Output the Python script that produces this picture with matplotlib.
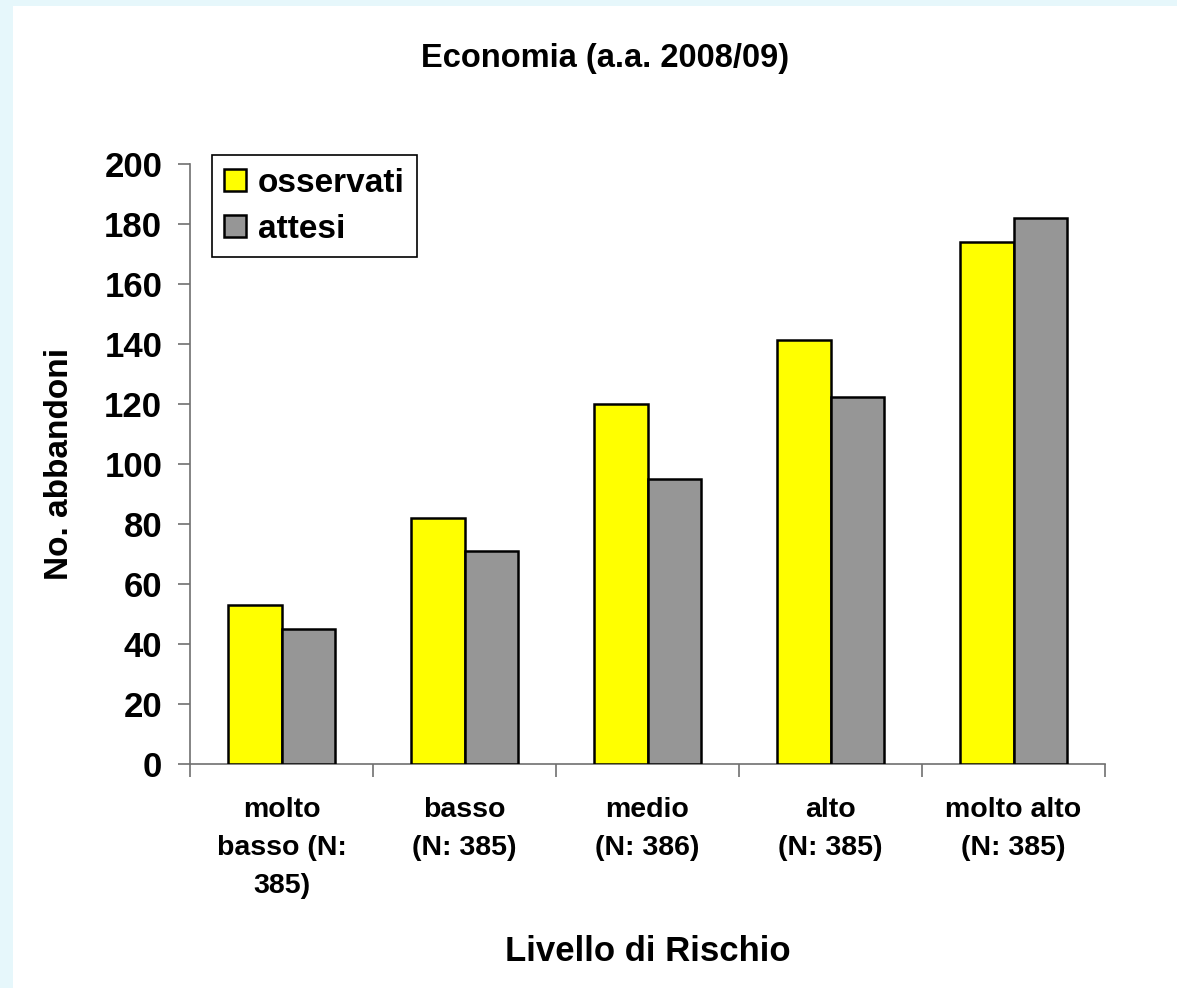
import numpy as np
import matplotlib.pyplot as plt
from matplotlib.patches import Rectangle

# data
categories = ['molto\nbasso (N:\n385)', 'basso\n(N: 385)', 'medio\n(N: 386)',
              'alto\n(N: 385)', 'molto alto\n(N: 385)']
osservati = [53, 82, 120, 141.5, 174]
attesi = [45, 71, 95, 122.5, 182]
yticks = list(range(0, 201, 20))

plt.rcParams['font.family'] = ['Liberation Sans', 'DejaVu Sans']
plt.rcParams['font.weight'] = 'bold'

fig = plt.figure(figsize=(11.77, 9.88), dpi=100)
fig.patch.set_facecolor('white')
# light cyan frame on the top and left edges
fig.patches.append(Rectangle((0, 0), 13 / 1177, 1, transform=fig.transFigure,
                             facecolor='#e6f7fb', edgecolor='none', zorder=-1))
fig.patches.append(Rectangle((0, 1 - 6 / 988), 1, 6 / 988, transform=fig.transFigure,
                             facecolor='#e6f7fb', edgecolor='none', zorder=-1))

ax = fig.add_axes([190 / 1177, 1 - 764 / 988, 915 / 1177, 600 / 988])

x = np.arange(len(categories))
w = 0.291
ax.bar(x - w / 2, osservati, w, color='#ffff00', edgecolor='black', linewidth=1.8,
       label='osservati', zorder=3)
ax.bar(x + w / 2, attesi, w, color='#969696', edgecolor='black', linewidth=1.8,
       label='attesi', zorder=3)

ax.set_xlim(-0.5, len(categories) - 0.5)
ax.set_ylim(0, 200)
ax.set_yticks(yticks)
ax.set_yticklabels([str(v) for v in yticks], fontsize=25, fontweight='bold')

# category ticks sit between groups, labels at group centres
ax.set_xticks(np.arange(len(categories) + 1) - 0.5)
ax.set_xticklabels([])
ax.set_xticks(x, minor=True)
ax.set_xticklabels(categories, minor=True, fontsize=20.5, fontweight='bold',
                   linespacing=1.58, va='top')
ax.tick_params(axis='x', which='minor', length=0, pad=24)
ax.tick_params(axis='x', which='major', length=9, color='#707070', width=1.2)
ax.tick_params(axis='y', length=9, color='#707070', width=1.2, pad=11)

for s in ['top', 'right']:
    ax.spines[s].set_visible(False)
for s in ['left', 'bottom']:
    ax.spines[s].set_color('#707070')
    ax.spines[s].set_linewidth(1.2)

ax.set_ylabel('No. abbandoni', fontsize=24, fontweight='bold', labelpad=21)
ax.set_xlabel('Livello di Rischio', fontsize=25, fontweight='bold', labelpad=26)

fig.text(605 / 1177, 1 - 58 / 988, 'Economia (a.a. 2008/09)', ha='center', va='center',
         fontsize=23.5, fontweight='bold')

leg = ax.legend(loc='upper left', bbox_to_anchor=(21.7 / 915, 1.015), fontsize=24,
                frameon=True, fancybox=False, edgecolor='black', handlelength=0.65,
                handleheight=0.65, handletextpad=0.35, borderpad=0.38, labelspacing=0.45,
                borderaxespad=0)
leg.get_frame().set_linewidth(1.2)
leg.get_frame().set_alpha(1)
for t in leg.get_texts():
    t.set_fontweight('bold')

fig.savefig('out.png', dpi=100)
